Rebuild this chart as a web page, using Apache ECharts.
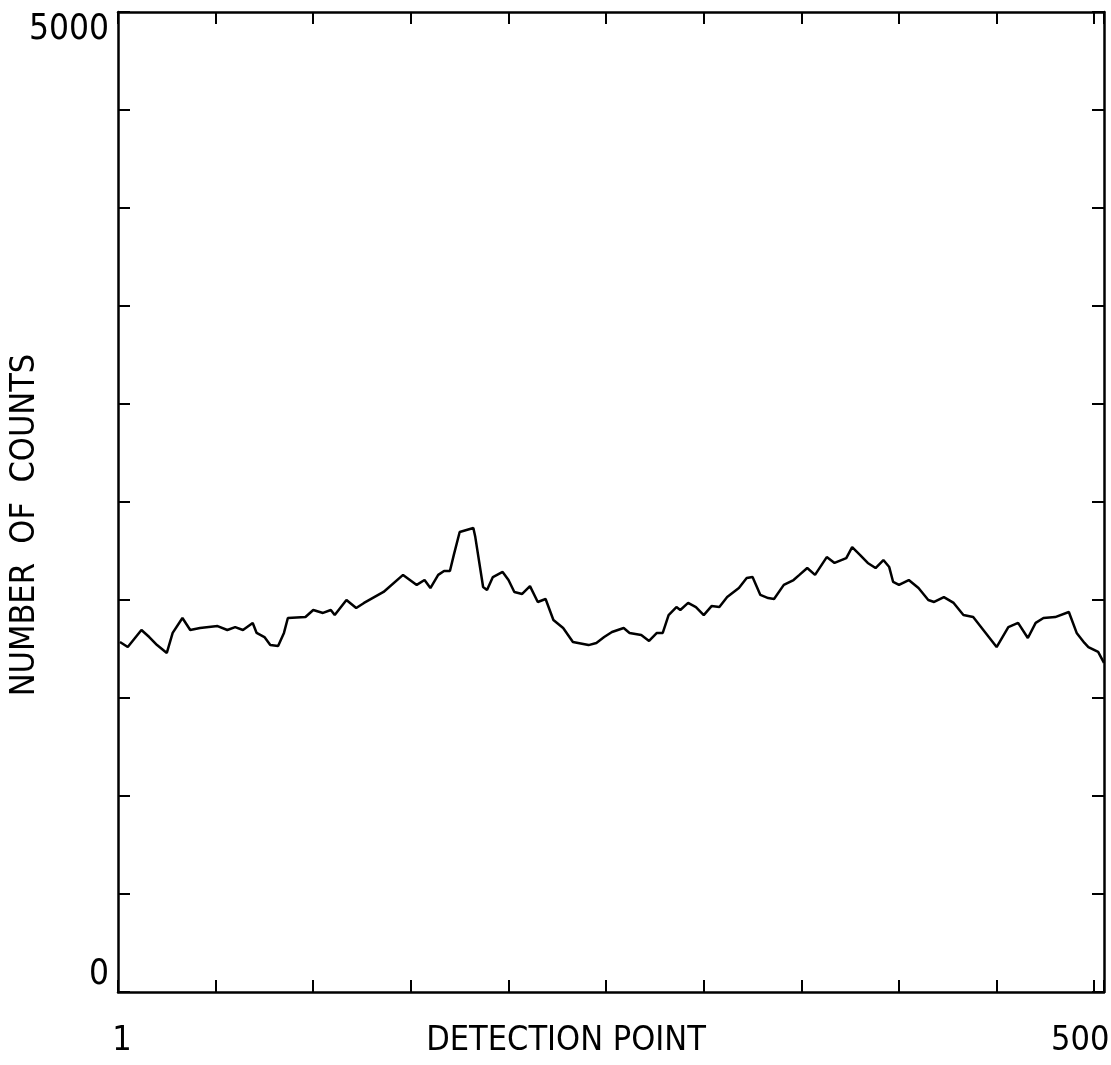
<!DOCTYPE html>
<html>
<head>
<meta charset="utf-8">
<title>Number of counts per detection point</title>
<script src="https://cdn.jsdelivr.net/npm/echarts@6/dist/echarts.min.js"></script>
<style>
  html, body { margin: 0; padding: 0; background: #fff; }
  #main { width: 1111px; height: 1065px; }
</style>
</head>
<body>
<div id="main"></div>
<script>
// values
var detectionPoint = [
  1, 5, 12, 16, 20, 25, 28, 33, 37, 42, 51, 56, 60, 64, 69, 71, 75, 78, 82, 85,
  87, 96, 100, 105, 109, 111, 117, 122, 126, 136, 146, 153, 157, 160, 164, 167,
  170, 172, 175, 182, 183, 187, 189, 192, 197, 200, 203, 207, 211, 215, 219, 223,
  228, 233, 241, 245, 249, 253, 259, 262, 268, 272, 276, 279, 282, 286, 288, 292,
  296, 300, 304, 308, 312, 318, 322, 325, 329, 333, 336, 341, 346, 349, 353, 357,
  363, 367, 373, 376, 380, 384, 388, 392, 395, 397, 400, 405, 410, 415, 418, 423,
  428, 433, 438, 444, 450, 456, 461, 466, 470, 474, 480, 487, 491, 495, 497, 502, 505
];
var counts = [
  1786, 1760, 1847, 1811, 1770, 1730, 1832, 1908, 1847, 1857, 1867, 1847, 1862, 1847, 1883, 1832, 1811, 1770, 1765, 1832,
  1908, 1913, 1949, 1934, 1949, 1923, 2000, 1959, 1985, 2041, 2128, 2077, 2102, 2061, 2128, 2148,
  2148, 2230, 2347, 2367, 2321, 2066, 2051, 2117, 2143, 2102, 2041, 2031, 2071, 1990, 2005, 1898,
  1857, 1786, 1770, 1781, 1811, 1837, 1857, 1832, 1821, 1791, 1832, 1832, 1923, 1964, 1949, 1985,
  1964, 1923, 1969, 1964, 2015, 2061, 2112, 2117, 2026, 2010, 2005, 2077, 2102, 2128, 2163, 2128,
  2219, 2189, 2214, 2270, 2230, 2189, 2163, 2204, 2168, 2092, 2077, 2102, 2061, 2000, 1990, 2015,
  1985, 1923, 1913, 1837, 1760, 1862, 1883, 1806, 1883, 1908, 1913, 1939, 1832, 1781, 1760, 1735, 1679
];
var yTickLabels = ['0', '5000'];
var xTickLabels = ['1', '500'];

var chart = echarts.init(document.getElementById('main'));

var font = "'Liberation Sans Narrow', 'DejaVu Sans Condensed', sans-serif";
function frameLine() { return { show: true, onZero: false, lineStyle: { color: '#000', width: 2.5 } }; }
function inTicks() { return { show: true, inside: true, length: 12, lineStyle: { color: '#000', width: 2 } }; }

var lineData = detectionPoint.map(function (p, i) { return [p, counts[i]]; });

var option = {
  backgroundColor: '#fff',
  animation: false,
  grid: { left: 118, right: 7, top: 12, bottom: 73, outerBoundsMode: 'none', containLabel: false },
  xAxis: [{
    type: 'value',
    min: 0,
    max: 505,
    interval: 50,
    axisLine: frameLine(),
    axisTick: inTicks(),
    splitLine: { show: false },
    axisLabel: {
      margin: 32,
      fontFamily: font,
      fontSize: 34,
      color: '#000',
      formatter: function (v) {
        if (v === 0) return '{a|' + xTickLabels[0] + '}';
        if (v === 500) return '{b|' + xTickLabels[1] + '}';
        return '';
      },
      rich: {
        a: { fontFamily: font, fontSize: 34, color: '#000', padding: [0, 0, 0, 8] },
        b: { fontFamily: font, fontSize: 34, color: '#000', padding: [0, 28, 0, 0] }
      }
    },
    name: 'DETECTION POINT',
    nameLocation: 'middle',
    nameGap: 32,
    nameMoveOverlap: false,
    nameTextStyle: { fontFamily: font, fontSize: 34, color: '#000', verticalAlign: 'top', padding: [0, 90, 0, 0] }
  }, {
    type: 'value',
    position: 'top',
    min: 0,
    max: 505,
    interval: 50,
    axisLine: frameLine(),
    axisTick: inTicks(),
    axisLabel: { show: false },
    splitLine: { show: false }
  }],
  yAxis: [{
    type: 'value',
    min: 0,
    max: 5000,
    interval: 500,
    axisLine: frameLine(),
    axisTick: inTicks(),
    splitLine: { show: false },
    axisLabel: {
      margin: 9,
      fontFamily: font,
      fontSize: 35,
      color: '#000',
      verticalAlignMinLabel: 'bottom',
      verticalAlignMaxLabel: 'top',
      formatter: function (v) {
        if (v === 0) return yTickLabels[0];
        if (v === 5000) return yTickLabels[1];
        return '';
      }
    },
    name: 'NUMBER  OF  COUNTS',
    nameLocation: 'middle',
    nameRotate: 90,
    nameGap: 76,
    nameMoveOverlap: false,
    nameTextStyle: { fontFamily: font, fontSize: 34, color: '#000', padding: [0, 46, 0, 0] }
  }, {
    type: 'value',
    position: 'right',
    min: 0,
    max: 5000,
    interval: 500,
    axisLine: frameLine(),
    axisTick: inTicks(),
    axisLabel: { show: false },
    splitLine: { show: false }
  }],
  series: [{
    type: 'line',
    data: lineData,
    showSymbol: false,
    lineStyle: { color: '#000', width: 2.5 },
    silent: true
  }]
};

chart.setOption(option);
</script>
</body>
</html>
